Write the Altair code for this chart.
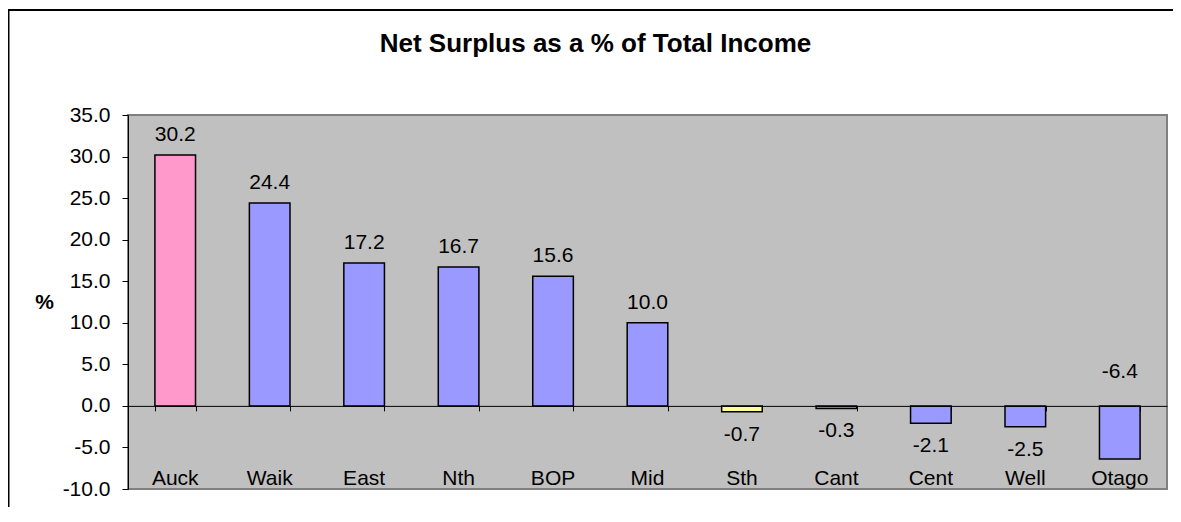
import altair as alt
import pandas as pd

# ---- data ----
regions = ["Auck", "Waik", "East", "Nth", "BOP", "Mid", "Sth", "Cant", "Cent", "Well", "Otago"]
values = [30.2, 24.4, 17.2, 16.7, 15.6, 10.0, -0.7, -0.3, -2.1, -2.5, -6.4]
bar_colors = ["#FF99CC"] + ["#9999FF"] * 5 + ["#FFFF99"] + ["#9999FF"] * 4
label_side = ["above"] * 6 + ["below"] * 4 + ["above_axis"]
y_ticks = [-10, -5, 0, 5, 10, 15, 20, 25, 30, 35]
title_text = "Net Surplus as a % of Total Income"
y_title = "%"

W, H = 1039, 374
PAD_L, PAD_T, PAD_R, PAD_B = 120, 107, 6, 18
FONT = "Liberation Sans"
FS = 21

df = pd.DataFrame({
    "region": regions,
    "value": values,
    "color": bar_colors,
    "side": label_side,
    "label": [f"{v:.1f}" for v in values],
})

y_scale = alt.Scale(domain=[-10, 35], nice=False, zero=False)
y_axis = alt.Axis(
    values=y_ticks, format=".1f",
    labelExpr="replace(format(datum.value, '.1f'), '\u2212', '-')",
    title=y_title, titleAngle=0,
    titleX=-84, titleY=H / 2, titleAlign="center", titleBaseline="middle",
    titleFontSize=FS, titleFontWeight="bold", titleFont=FONT, titleColor="black",
    labelFontSize=FS, labelFont=FONT, labelColor="black", labelPadding=12,
    tickSize=6, tickColor="black", domainColor="black", domainWidth=1,
    tickWidth=1, grid=False, zindex=1,
)
x_enc = alt.X(
    "region:N", sort=regions,
    scale=alt.Scale(paddingInner=0.57, paddingOuter=0.285),
    axis=alt.Axis(
        title=None, labels=False, orient="bottom", offset=-(H * 10 / 45),
        tickBand="extent", domainColor="black", tickColor="black",
        tickSize=5, domainWidth=1, tickWidth=1, grid=False, zindex=1,
    ),
)

base = alt.Chart(df).encode(x=x_enc)

frame_df = pd.DataFrame({"k": [0]})
outer_top = alt.Chart(frame_df).mark_rule(color="black", strokeWidth=2).encode(
    x=alt.value(-PAD_L), x2=alt.value(W + PAD_R), y=alt.value(-105)
)
outer_left = alt.Chart(frame_df).mark_rule(color="black", strokeWidth=2).encode(
    x=alt.value(-PAD_L + 0.5), y=alt.value(-106), y2=alt.value(H + PAD_B)
)
plot_frame = alt.Chart(frame_df).mark_rect(
    fill="#C0C0C0", stroke="#808080", strokeWidth=2
).encode(
    x=alt.value(0), y=alt.value(0), x2=alt.value(W), y2=alt.value(H)
)

bars = base.mark_bar(stroke="black", strokeWidth=1.5).encode(
    y=alt.Y("value:Q", scale=y_scale, axis=y_axis),
    color=alt.Color("color:N", scale=None),
)

lab_above = base.transform_filter(alt.datum.side == "above").mark_text(
    baseline="alphabetic", dy=-14, fontSize=FS, font=FONT, color="black"
).encode(y=alt.Y("value:Q", scale=y_scale, axis=y_axis), text="label:N")

lab_below = base.transform_filter(alt.datum.side == "below").mark_text(
    baseline="top", dy=12, fontSize=FS, font=FONT, color="black"
).encode(y=alt.Y("value:Q", scale=y_scale, axis=y_axis), text="label:N")

lab_axis = base.transform_filter(alt.datum.side == "above_axis").mark_text(
    baseline="alphabetic", dy=-28, fontSize=FS, font=FONT, color="black"
).encode(y=alt.Y(datum=0, scale=y_scale, axis=y_axis), text="label:N")

cat_labels = base.mark_text(
    baseline="alphabetic", dy=-4, fontSize=FS, font=FONT, color="black"
).encode(y=alt.Y(datum=-10, scale=y_scale, axis=y_axis), text="region:N")

title = alt.Chart(pd.DataFrame({"t": [title_text]})).mark_text(
    baseline="alphabetic", align="center", fontSize=26, fontWeight="bold",
    font=FONT, color="black"
).encode(x=alt.value(467.5), y=alt.value(-63), text="t:N")

chart = alt.layer(
    outer_top, outer_left, plot_frame, bars, lab_above, lab_below, lab_axis,
    cat_labels, title
).properties(
    width=W, height=H,
    padding={"left": PAD_L, "top": PAD_T, "right": PAD_R, "bottom": PAD_B},
    autosize=alt.AutoSizeParams(type="none"),
).configure_view(
    strokeWidth=0
).configure(
    background="transparent", font=FONT
)

chart.save("out.html", embed_options={"renderer": "svg", "actions": False})
